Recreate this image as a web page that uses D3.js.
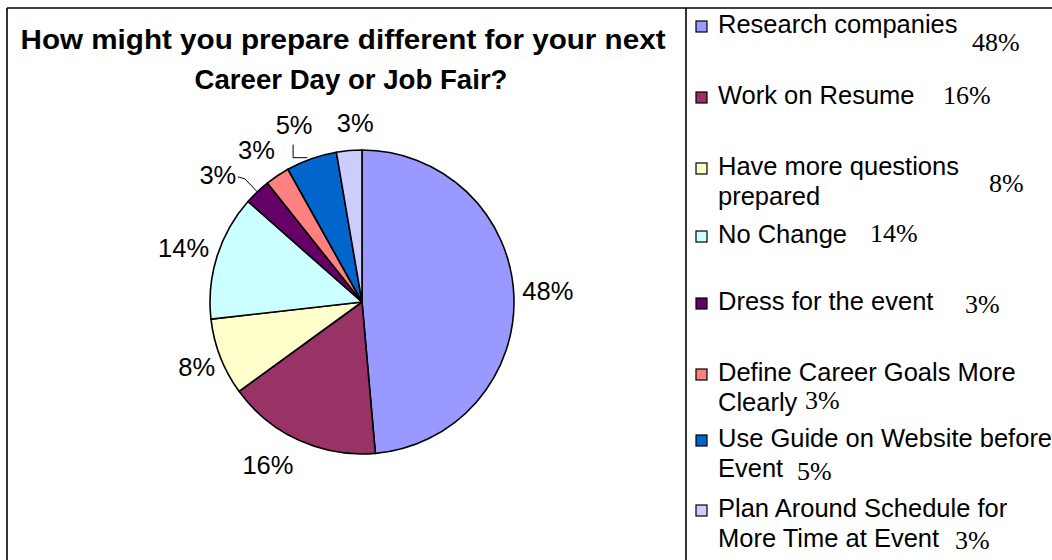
<!DOCTYPE html>
<html>
<head>
<meta charset="utf-8">
<script src="https://cdn.jsdelivr.net/npm/d3@7"></script>
<style>
  html, body { margin: 0; padding: 0; background: #ffffff; }
  svg { display: block; }
</style>
</head>
<body>
<div id="chart"></div>
<script>
// ---- data ----
const categories = [
  "Research companies",
  "Work on Resume",
  "Have more questions prepared",
  "No Change",
  "Dress for the event",
  "Define Career Goals More Clearly",
  "Use Guide on Website before Event",
  "Plan Around Schedule for More Time at Event"
];
const values = [48.6, 16.4, 8.2, 13.3, 2.8, 2.6, 5.4, 2.7];
const pctLabels = ["48%", "16%", "8%", "14%", "3%", "3%", "5%", "3%"];
const colors = ["#9999FF", "#993366", "#FFFFCC", "#CCFFFF", "#660066", "#FF8080", "#0066CC", "#CCCCFF"];
const titleLines = ["How might you prepare different for your next", "Career Day or Job Fair?"];
// legend text lines (wrapped as in the original) and the percent text that follows
const legendLines = [
  ["Research companies"],
  ["Work on Resume"],
  ["Have more questions", "prepared"],
  ["No Change"],
  ["Dress for the event"],
  ["Define Career Goals More", "Clearly"],
  ["Use Guide on Website before", "Event"],
  ["Plan Around Schedule for", "More Time at Event"]
];
const legendPct = ["48%", "16%", "8%", "14%", "3%", "3%", "5%", "3%"];

// ---- layout ----
const W = 1052, H = 560;
const svg = d3.select("#chart").append("svg").attr("width", W).attr("height", H);
svg.append("rect").attr("width", W).attr("height", H).attr("fill", "#fff");

// frame
const frame = svg.append("g").attr("stroke", "#000").attr("stroke-width", 1.6).attr("fill", "none");
frame.append("line").attr("x1", 7).attr("y1", 8).attr("x2", W).attr("y2", 8);
frame.append("line").attr("x1", 7).attr("y1", 8).attr("x2", 7).attr("y2", H);
frame.append("line").attr("x1", 686).attr("y1", 8).attr("x2", 686).attr("y2", H);

// title
const titleWidths = [645, 313];
svg.append("g").selectAll("text").data(titleLines).join("text")
  .attr("x", (d, i) => 343 + (i === 1 ? 8 : 0) - titleWidths[i] / 2).attr("y", (d, i) => 49 + i * 40)
  .attr("textLength", (d, i) => titleWidths[i])
  .attr("lengthAdjust", "spacingAndGlyphs")
  .attr("font-family", "Liberation Sans, Arial, sans-serif")
  .attr("font-weight", "bold").attr("font-size", 27)
  .attr("fill", "#000")
  .text(d => d);

// pie
const cx = 362, cy = 302, R = 152;
const pie = d3.pie().sort(null).value(d => d).startAngle(0).endAngle(2 * Math.PI);
const arcs = pie(values);
const arc = d3.arc().innerRadius(0).outerRadius(R);
const labelArc = d3.arc().innerRadius(R + 34).outerRadius(R + 34);
const g = svg.append("g").attr("transform", `translate(${cx},${cy})`);
g.selectAll("path.slice").data(arcs).join("path")
  .attr("class", "slice")
  .attr("d", arc)
  .attr("fill", (d, i) => colors[i])
  .attr("stroke", "#000").attr("stroke-width", 1.6).attr("stroke-linejoin", "round");

// pie labels (best-fit placement nudges, as in the original)
const labelFont = "Liberation Sans, Arial, sans-serif";
const nudge = [[0, -3], [-17, -6], [8, -2], [-1, 2], [-16, 8], [-2, 2], [-6, -2], [9, 6]];
const pos = arcs.map((a, i) => {
  const c = labelArc.centroid(a);
  return [c[0] + nudge[i][0], c[1] + nudge[i][1]];
});
g.selectAll("text.pl").data(arcs).join("text")
  .attr("class", "pl")
  .attr("x", (d, i) => pos[i][0])
  .attr("y", (d, i) => pos[i][1] + 9)
  .attr("text-anchor", "middle")
  .attr("font-family", labelFont).attr("font-size", 25.5)
  .attr("fill", "#000")
  .text((d, i) => pctLabels[i]);

// leader lines for the two small crowded slices
function polar(angle, r) { return [Math.sin(angle) * r, -Math.cos(angle) * r]; }
const leaderKinds = [null, null, null, null, "h", null, "v", null];
const line = d3.line();
arcs.forEach((a, i) => {
  const k = leaderKinds[i];
  if (!k) return;
  const mid = (a.startAngle + a.endAngle) / 2;
  const p0 = polar(mid, R);
  let pts;
  if (k === "h") {
    const p1 = polar(mid, R + 18);
    pts = [p0, p1, [pos[i][0] + 20, p1[1] - 2]];
  } else {
    pts = [[p0[0] - 4, p0[1] - 1], [pos[i][0] - 1, p0[1] - 1], [pos[i][0] - 1, pos[i][1] + 20]];
  }
  g.append("path").attr("d", line(pts)).attr("fill", "none")
    .attr("stroke", "#000").attr("stroke-width", 1);
});

// legend
const legTop = [21, 92, 163, 231, 298, 369, 435, 505];
const lg = svg.append("g");
categories.forEach((c, i) => {
  const y0 = legTop[i];
  lg.append("rect").attr("x", 696).attr("y", y0).attr("width", 11).attr("height", 11)
    .attr("fill", colors[i]).attr("stroke", "#000").attr("stroke-width", 1.2);
  const lines = legendLines[i];
  const t = lg.append("text")
    .attr("font-family", labelFont).attr("font-size", 25.5).attr("fill", "#000");
  lines.forEach((ln, j) => {
    t.append("tspan").attr("x", 718).attr("y", y0 + 12 + j * 30).text(ln);
  });
});
// percent values in the legend (serif)
const pctPos = [[972, 51], [943, 104], [989, 192], [870, 242], [965, 313], [805, 409], [797, 480], [955, 549]];
lg.selectAll("text.lp").data(legendPct).join("text")
  .attr("class", "lp")
  .attr("x", (d, i) => pctPos[i][0]).attr("y", (d, i) => pctPos[i][1])
  .attr("font-family", "Liberation Serif, Times New Roman, serif")
  .attr("font-size", 26).attr("fill", "#000")
  .text(d => d);
</script>
</body>
</html>
